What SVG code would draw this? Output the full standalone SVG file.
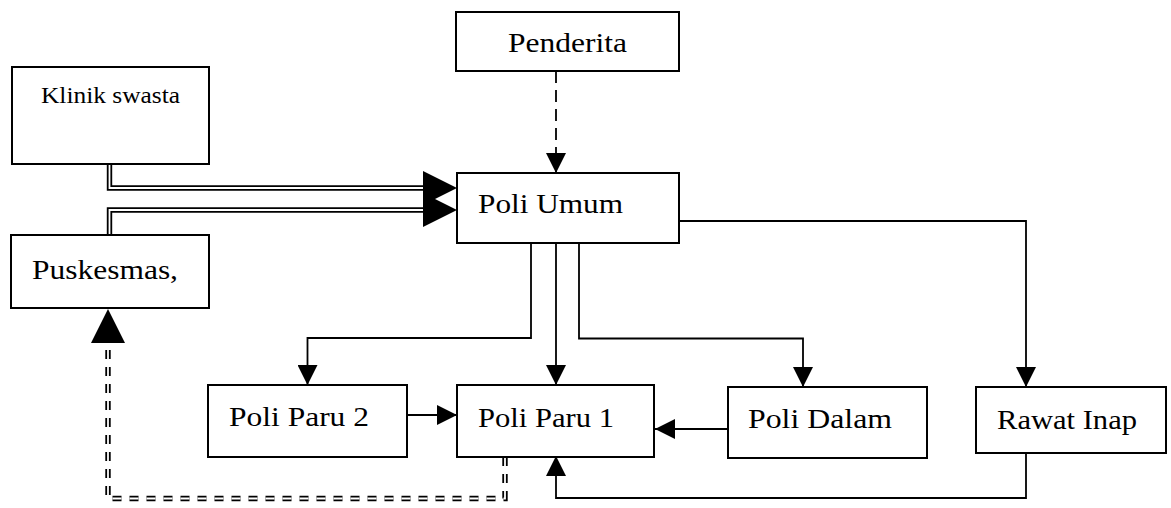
<svg xmlns="http://www.w3.org/2000/svg" width="1171" height="508" viewBox="0 0 1171 508">
  <style>
    .box { fill: #fff; stroke: #000; stroke-width: 2; }
    .lbl { font-family: "Liberation Serif", "Times New Roman", serif; font-size: 28px; fill: #000; }
    .lbl-sm { font-family: "Liberation Serif", "Times New Roman", serif; font-size: 24px; fill: #000; }
    .ln { fill: none; stroke: #000; stroke-width: 1.8; }
    .dash { stroke-dasharray: 12 7; }
    .dbl-out { fill: none; stroke: #000; stroke-width: 5.4; stroke-linejoin: miter; }
    .dbl-in { fill: none; stroke: #fff; stroke-width: 1.8; stroke-linejoin: miter; }
    .dd { stroke-dasharray: 9 8; }
  </style>
  <defs>
    <marker id="arr" markerUnits="userSpaceOnUse" markerWidth="20" markerHeight="20" refX="20" refY="10" orient="auto">
      <path d="M0,0 L20,10 L0,20 z" fill="#000"/>
    </marker>
    <marker id="arr-big" markerUnits="userSpaceOnUse" markerWidth="34" markerHeight="34" refX="0" refY="17" orient="auto">
      <path d="M0,0 L34,17 L0,34 z" fill="#000"/>
    </marker>
  </defs>

  <rect width="1171" height="508" fill="#fff"/>

  <g id="connectors">
    <!-- Penderita to Poli Umum -->
    <path class="ln dash" d="M556,71 V173" marker-end="url(#arr)"/>
    <!-- Klinik swasta to Poli Umum (double line) -->
    <path class="dbl-out" d="M109.5,164 V188 H423" marker-end="url(#arr-big)"/>
    <path class="dbl-in" d="M109.5,163 V188 H423"/>
    <!-- Puskesmas to Poli Umum (double line) -->
    <path class="dbl-out" d="M109.5,235 V210 H423" marker-end="url(#arr-big)"/>
    <path class="dbl-in" d="M109.5,236 V210 H423"/>
    <!-- Poli Umum to Rawat Inap -->
    <path class="ln" d="M679,221 H1026 V387" marker-end="url(#arr)"/>
    <!-- Poli Umum to Poli Paru 2 -->
    <path class="ln" d="M531,243 V338 H307.5 V385" marker-end="url(#arr)"/>
    <!-- Poli Umum to Poli Paru 1 -->
    <path class="ln" d="M556,243 V385" marker-end="url(#arr)"/>
    <!-- Poli Umum to Poli Dalam -->
    <path class="ln" d="M579,243 V338.5 H803 V387" marker-end="url(#arr)"/>
    <!-- Poli Paru 2 to Poli Paru 1 -->
    <path class="ln" d="M407,415 H457" marker-end="url(#arr)"/>
    <!-- Poli Dalam to Poli Paru 1 -->
    <path class="ln" d="M728,429 H655" marker-end="url(#arr)"/>
    <!-- Rawat Inap to Poli Paru 1 -->
    <path class="ln" d="M1026,453 V498 H556 V456" marker-end="url(#arr)"/>
    <!-- Poli Paru 1 back to Puskesmas (double dashed) -->
    <path class="dbl-out dd" d="M505,457 V498.5 H108 V343" marker-end="url(#arr-big)"/>
    <path class="dbl-in dd" d="M505,457 V498.5 H108 V343"/>
  </g>

  <g id="penderita">
    <rect class="box" x="456" y="12" width="223" height="59"/>
    <text class="lbl" x="508" y="52" textLength="119" lengthAdjust="spacingAndGlyphs">Penderita</text>
  </g>
  <g id="klinik-swasta">
    <rect class="box" x="12" y="67" width="197" height="97"/>
    <text class="lbl-sm" x="41" y="103" textLength="139" lengthAdjust="spacingAndGlyphs">Klinik swasta</text>
  </g>
  <g id="poli-umum">
    <rect class="box" x="457" y="173" width="222" height="70"/>
    <text class="lbl" x="478" y="213" textLength="145" lengthAdjust="spacingAndGlyphs">Poli Umum</text>
  </g>
  <g id="puskesmas">
    <rect class="box" x="11" y="235" width="198" height="73"/>
    <text class="lbl" x="32" y="279" textLength="146" lengthAdjust="spacingAndGlyphs">Puskesmas,</text>
  </g>
  <g id="poli-paru-2">
    <rect class="box" x="208" y="385" width="199" height="72"/>
    <text class="lbl" x="229" y="426" textLength="140" lengthAdjust="spacingAndGlyphs">Poli Paru 2</text>
  </g>
  <g id="poli-paru-1">
    <rect class="box" x="457" y="385" width="197" height="72"/>
    <text class="lbl" x="478" y="427" textLength="136" lengthAdjust="spacingAndGlyphs">Poli Paru 1</text>
  </g>
  <g id="poli-dalam">
    <rect class="box" x="728" y="387" width="199" height="71"/>
    <text class="lbl" x="748" y="428" textLength="144" lengthAdjust="spacingAndGlyphs">Poli Dalam</text>
  </g>
  <g id="rawat-inap">
    <rect class="box" x="976" y="387" width="190" height="66"/>
    <text class="lbl" x="997" y="429" textLength="140" lengthAdjust="spacingAndGlyphs">Rawat Inap</text>
  </g>
</svg>
